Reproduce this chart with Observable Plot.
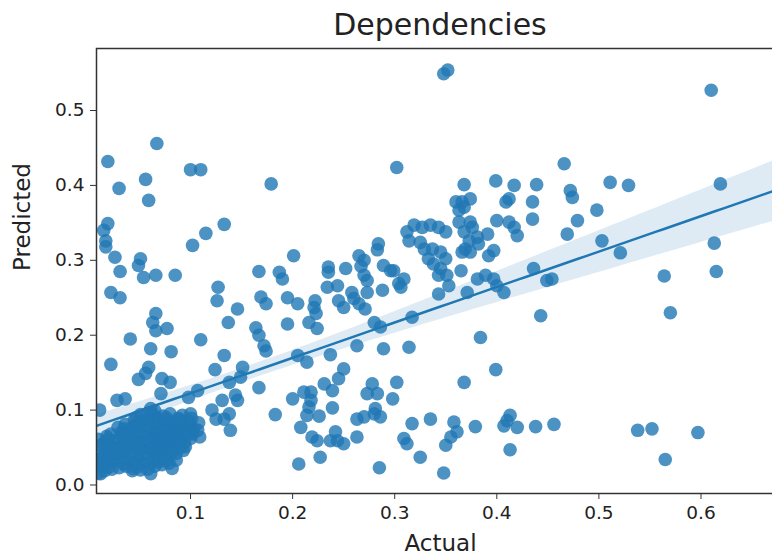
<!DOCTYPE html>
<html>
<head>
<meta charset="utf-8">
<script src="https://cdn.jsdelivr.net/npm/d3@7"></script>
<script src="https://cdn.jsdelivr.net/npm/@observablehq/plot@0.6"></script>
<style>
html, body { margin: 0; padding: 0; background: #fff; overflow: hidden; width: 772px; height: 559px; }
#title { width: 800px; box-sizing: border-box; padding: 8px 16px 0 96px; height: 42px; line-height: 34px;
  text-align: center; font-family: "DejaVu Sans"; font-size: 30px; color: #222; white-space: nowrap; }
</style>
</head>
<body>
<div id="title">Dependencies</div>
<div id="chart"></div>
<script>
// Scattered points
const actualSparse = [
0.348,0.352,0.610,0.067,0.019,0.100,0.110,0.056,0.030,0.179,
0.059,0.019,0.015,0.133,0.115,0.102,0.017,0.017,0.026,0.051,
0.049,0.201,0.031,0.054,0.066,0.085,0.167,0.187,0.190,0.235,
0.235,0.234,0.022,0.031,0.127,0.126,0.146,0.169,0.174,0.195,
0.205,0.222,0.221,0.223,0.066,0.063,0.066,0.077,0.137,0.164,
0.195,0.216,0.224,0.041,0.110,0.244,0.245,0.061,0.081,0.022,
0.133,0.167,0.172,0.174,0.205,0.214,0.237,0.059,0.056,0.049,
0.072,0.080,0.124,0.151,0.149,0.138,0.167,0.028,0.036,0.071,
0.107,0.098,0.131,0.144,0.146,0.183,0.200,0.211,0.218,0.218,
0.216,0.231,0.245,0.239,0.214,0.226,0.208,0.219,0.224,0.237,
0.244,0.227,0.206,0.011,0.121,0.125,0.133,0.139,0.100,0.103,
0.138,0.109,0.102,0.095,0.086,0.082,0.061,0.043,0.012,0.011,
0.302,0.252,0.265,0.270,0.267,0.284,0.283,0.289,0.296,0.304,
0.270,0.273,0.258,0.273,0.288,0.250,0.260,0.265,0.271,
0.466,0.368,0.399,0.417,0.439,0.360,0.366,0.374,0.363,0.368,
0.409,0.412,0.435,0.435,0.400,0.412,0.417,0.420,0.363,0.374,
0.376,0.319,0.327,0.335,0.343,0.350,0.312,0.314,0.368,0.373,
0.381,0.382,0.391,0.325,0.329,0.337,0.345,0.369,0.374,0.366,
0.392,0.397,0.333,0.338,0.345,0.350,0.299,0.365,0.343,0.351,
0.309,0.306,0.381,0.389,0.397,0.400,0.407,0.436,0.449,0.454,
0.353,0.343,0.371,0.469,0.472,0.474,0.479,
0.443,0.384,0.263,0.289,0.314,0.280,0.286,0.317,0.250,0.399,
0.368,0.278,0.273,0.283,0.302,0.298,0.263,0.270,0.280,0.286,
0.281,0.242,0.250,0.263,0.317,0.335,0.309,0.312,0.358,0.361,
0.355,0.350,0.379,0.407,0.413,0.420,0.410,0.438,0.456,0.413,
0.325,0.285,0.348,
0.511,0.529,0.619,0.498,0.503,0.521,0.613,0.615,0.564,0.570,
0.538,0.552,0.597,0.565,0.239
];
const predictedSparse = [
0.549,0.554,0.527,0.456,0.432,0.421,0.421,0.408,0.396,0.402,
0.380,0.349,0.340,0.348,0.336,0.320,0.326,0.318,0.304,0.302,
0.293,0.306,0.285,0.277,0.280,0.280,0.285,0.284,0.275,0.291,
0.284,0.264,0.257,0.250,0.264,0.246,0.235,0.251,0.242,0.250,
0.242,0.246,0.237,0.229,0.229,0.217,0.206,0.209,0.217,0.210,
0.215,0.217,0.209,0.195,0.194,0.266,0.246,0.182,0.178,0.161,
0.173,0.200,0.186,0.179,0.173,0.164,0.174,0.157,0.149,0.141,
0.142,0.137,0.154,0.157,0.144,0.137,0.130,0.113,0.115,0.122,
0.126,0.117,0.113,0.120,0.113,0.094,0.115,0.124,0.124,0.113,
0.104,0.135,0.142,0.103,0.093,0.092,0.077,0.064,0.059,0.059,
0.059,0.037,0.028,0.100,0.100,0.088,0.088,0.073,0.095,0.075,
0.095,0.064,0.068,0.051,0.033,0.022,0.015,0.019,0.015,0.028,
0.424,0.289,0.306,0.300,0.292,0.322,0.314,0.293,0.286,0.269,
0.280,0.273,0.257,0.257,0.260,0.237,0.249,0.242,0.235,
0.429,0.401,0.406,0.400,0.401,0.378,0.378,0.382,0.367,0.371,
0.378,0.382,0.378,0.355,0.353,0.351,0.344,0.333,0.351,0.351,
0.344,0.347,0.344,0.347,0.344,0.338,0.338,0.326,0.338,0.326,
0.331,0.322,0.335,0.324,0.315,0.315,0.311,0.315,0.311,0.311,
0.306,0.313,0.302,0.295,0.289,0.302,0.286,0.286,0.280,0.280,
0.275,0.264,0.275,0.280,0.275,0.266,0.257,0.289,0.273,0.275,
0.266,0.255,0.257,0.335,0.393,0.384,0.353,
0.226,0.197,0.186,0.182,0.184,0.217,0.211,0.224,0.155,0.154,
0.137,0.135,0.122,0.122,0.137,0.115,0.088,0.091,0.095,0.091,
0.102,0.071,0.055,0.064,0.082,0.088,0.062,0.055,0.084,0.071,
0.064,0.053,0.078,0.079,0.093,0.077,0.086,0.078,0.081,0.047,
0.037,0.023,0.016,
0.404,0.400,0.402,0.367,0.326,0.310,0.323,0.285,0.279,0.230,
0.073,0.075,0.070,0.034,0.126
];
// Dense cluster near the origin
const actualCluster = [
0.010,0.009,0.011,0.010,0.012,0.010,
0.016,0.017,0.015,0.017,0.016,0.018,
0.023,0.022,0.024,0.023,0.025,0.022,
0.030,0.031,0.029,0.031,0.030,0.032,0.029,
0.037,0.038,0.036,0.038,0.037,0.039,0.036,
0.044,0.045,0.043,0.045,0.044,0.046,0.043,0.045,
0.051,0.052,0.050,0.052,0.051,0.053,0.050,0.052,0.051,
0.058,0.059,0.057,0.059,0.058,0.060,0.057,0.059,0.058,0.061,
0.065,0.066,0.064,0.066,0.065,0.067,0.064,0.066,0.065,
0.072,0.073,0.071,0.073,0.072,0.074,0.071,0.073,
0.079,0.080,0.078,0.080,0.079,0.081,0.078,0.080,
0.086,0.087,0.085,0.087,0.086,0.088,
0.093,0.094,0.092,0.094,0.093,0.092,
0.100,0.101,0.099,0.101,
0.107,0.108,
0.020,0.019,0.021,0.020,0.019,
0.034,0.033,0.035,0.034,0.033,0.035,
0.048,0.047,0.049,0.048,0.047,0.049,0.048,0.047,
0.062,0.063,0.061,0.062,0.063,0.061,0.062,0.063,
0.069,0.068,0.070,0.069,0.068,0.070,0.069,
0.076,0.077,0.075,0.076,0.077,0.075,0.076,
0.083,0.084,0.082,0.083,0.084,
0.090,0.089,0.091,0.090,0.089,
0.097,0.096,0.098
];
const predictedCluster = [
0.016,0.026,0.035,0.044,0.053,0.061,
0.019,0.029,0.038,0.047,0.057,0.065,
0.021,0.031,0.040,0.050,0.059,0.068,
0.023,0.032,0.042,0.051,0.061,0.070,0.077,
0.025,0.034,0.044,0.053,0.063,0.072,0.081,
0.022,0.031,0.041,0.050,0.059,0.068,0.077,0.087,
0.020,0.029,0.039,0.048,0.057,0.067,0.076,0.085,0.094,
0.021,0.030,0.040,0.049,0.059,0.068,0.078,0.087,0.096,0.102,
0.025,0.034,0.044,0.053,0.062,0.072,0.081,0.090,0.099,
0.027,0.036,0.046,0.055,0.064,0.074,0.083,0.092,
0.029,0.039,0.048,0.058,0.067,0.076,0.086,0.095,
0.042,0.052,0.061,0.071,0.080,0.089,
0.046,0.056,0.065,0.074,0.084,0.093,
0.062,0.072,0.081,0.089,
0.073,0.083,
0.024,0.034,0.043,0.052,0.061,
0.028,0.037,0.047,0.056,0.066,0.075,
0.024,0.034,0.043,0.053,0.062,0.071,0.080,0.090,
0.029,0.039,0.048,0.057,0.066,0.076,0.085,0.094,
0.031,0.040,0.050,0.059,0.069,0.078,0.087,
0.033,0.043,0.052,0.062,0.071,0.080,0.090,
0.047,0.056,0.066,0.075,0.084,
0.050,0.060,0.069,0.078,0.087,
0.067,0.076,0.085
];
const xTicks = [0.1, 0.2, 0.3, 0.4, 0.5, 0.6];
const yTicks = [0.0, 0.1, 0.2, 0.3, 0.4, 0.5];
const xDomain = [0.0079, 0.6818];
const yDomain = [-0.01135, 0.5828];
const blue = "#1f77b4";

const data = actualSparse.map((x, i) => ({x, y: predictedSparse[i]}))
  .concat(actualCluster.map((x, i) => ({x, y: predictedCluster[i]})));

// Least squares fit; 95% band from a heteroscedasticity-robust variance (close to seaborn's bootstrap)
const n = data.length;
const xbar = d3.mean(data, d => d.x), ybar = d3.mean(data, d => d.y);
const sxx = d3.sum(data, d => (d.x - xbar) ** 2);
const sxy = d3.sum(data, d => (d.x - xbar) * (d.y - ybar));
const slope = sxy / sxx, intercept = ybar - slope * xbar;
const res = data.map(d => d.y - intercept - slope * d.x);
const v00 = d3.sum(res, e => e * e) / (n * n);
const v01 = d3.sum(data, (d, i) => res[i] ** 2 * (d.x - xbar)) / (n * sxx);
const v11 = d3.sum(data, (d, i) => res[i] ** 2 * (d.x - xbar) ** 2) / (sxx * sxx);
const z = 1.96;
const fit = d3.range(81).map(i => {
  const x = xDomain[0] + (xDomain[1] - xDomain[0]) * i / 80;
  const dx = x - xbar;
  const yh = intercept + slope * x;
  const se = Math.sqrt(Math.max(0, v00 + 2 * dx * v01 + dx * dx * v11));
  return {x, y: yh, lo: yh - z * se, hi: yh + z * se};
});

const chart = Plot.plot({
  width: 800, height: 517,
  marginTop: 6, marginBottom: 66, marginLeft: 96, marginRight: 16,
  style: {fontFamily: "DejaVu Sans", background: "#fff", color: "#222", maxWidth: "none", overflow: "visible"},
  x: {domain: xDomain},
  y: {domain: yDomain},
  marks: [
    Plot.dot(data, {x: "x", y: "y", r: 6.8, fill: blue, fillOpacity: 0.8, stroke: "none", clip: true}),
    Plot.areaY(fit, {x: "x", y1: "lo", y2: "hi", fill: blue, fillOpacity: 0.15, clip: true}),
    Plot.line(fit, {x: "x", y: "y", stroke: blue, strokeWidth: 2.5, clip: true}),
    Plot.frame({stroke: "#333", strokeWidth: 1.5}),
    Plot.axisX({ticks: xTicks, tickFormat: d3.format(".1f"), tickSize: 6, tickPadding: 6, fontSize: 18.5, label: null, stroke: "#333"}),
    Plot.axisY({ticks: yTicks, tickFormat: d3.format(".1f"), tickSize: 6, tickPadding: 6, fontSize: 18.5, label: null, stroke: "#333"}),
    Plot.text(["Actual"], {text: d => d, frameAnchor: "bottom", dy: 50, fontSize: 23, lineAnchor: "middle"}),
    Plot.text(["Predicted"], {text: d => d, frameAnchor: "left", dx: -74, rotate: -90, fontSize: 23, lineAnchor: "middle"})
  ]
});
document.getElementById("chart").appendChild(chart);
</script>
</body>
</html>
